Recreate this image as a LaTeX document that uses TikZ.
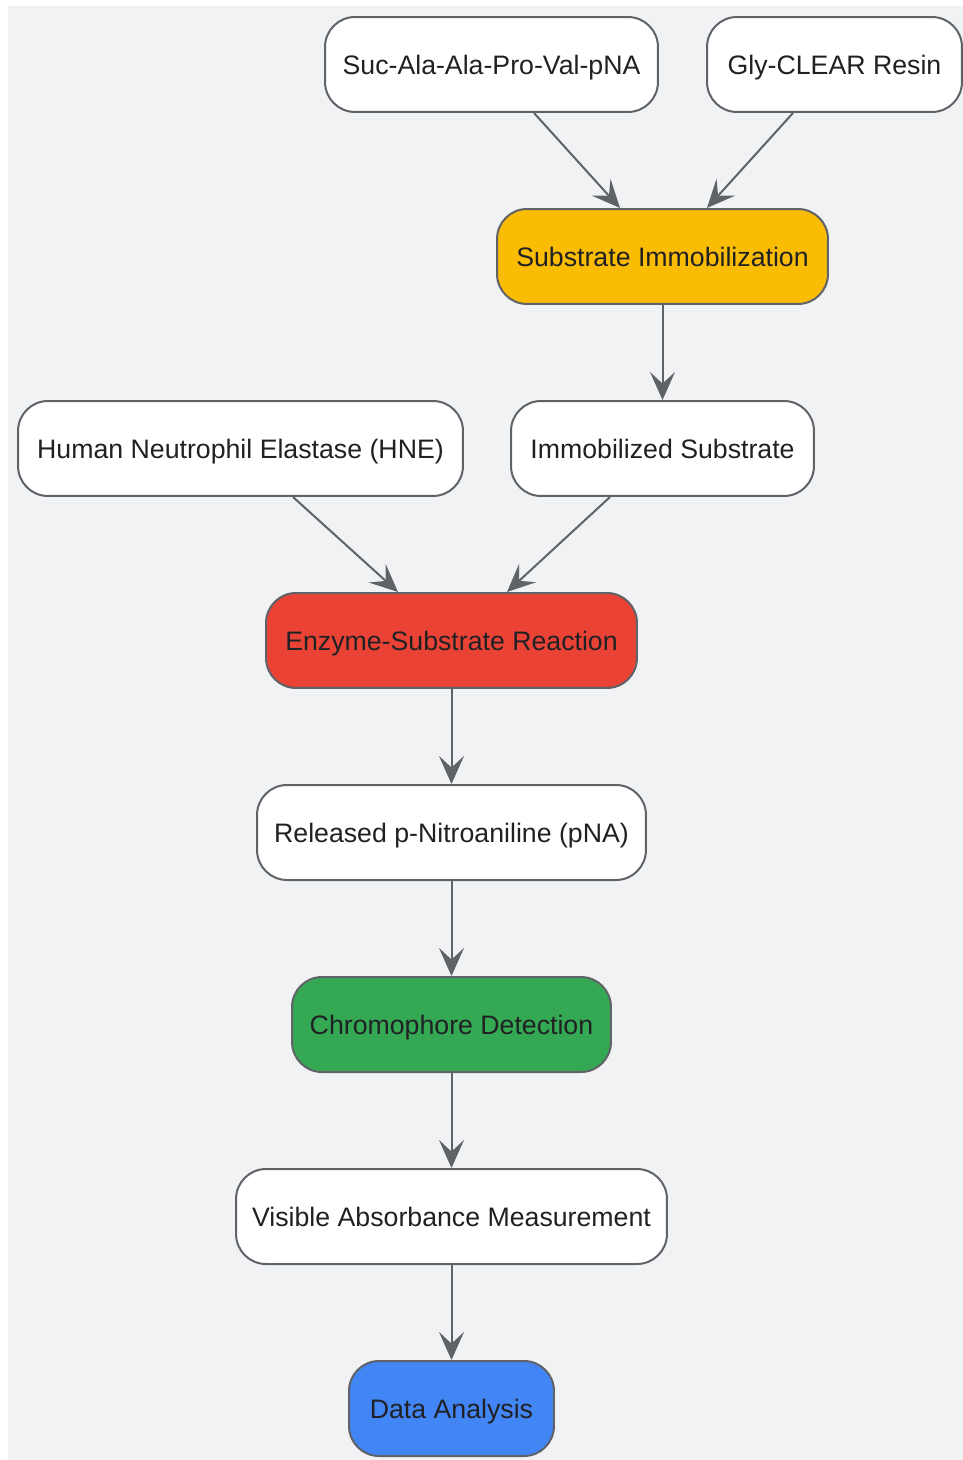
\documentclass[tikz,border=0pt]{standalone}
\usepackage{fontspec}
\setmainfont{Liberation Sans}
\usepackage{xcolor}
\usepackage{tikz}
\usetikzlibrary{arrows.meta}

\definecolor{bggray}{HTML}{F1F2F4}
\definecolor{linegray}{HTML}{5F6368}
\definecolor{txtgray}{HTML}{202124}
\definecolor{gyellow}{HTML}{FBBC04}
\definecolor{gred}{HTML}{EA4335}
\definecolor{ggreen}{HTML}{34A853}
\definecolor{gblue}{HTML}{4285F4}

\tikzset{
  box/.style={draw=linegray, line width=0.4mm, rounded corners=6mm, fill=white,
    minimum height=19mm, inner sep=0pt, text=txtgray,
    text height=14.4pt, text depth=3.5pt,
    font=\fontsize{15.2pt}{18pt}\selectfont},
  flow/.style={draw=linegray, line width=0.4mm,
    -{Stealth[length=5.6mm,width=5mm,inset=2.3mm]}}
}

\begin{document}
\begin{tikzpicture}[x=0.02cm,y=-0.02cm]
\useasboundingbox (0,0) rectangle (963,1460);
% Background
\fill[bggray] (8,6) rectangle (963,1460);

% Inputs
\node[box,minimum width=6.66cm] (suc) at (491.5,64.5) {Suc-Ala-Ala-Pro-Val-pNA};
\node[box,minimum width=5.1cm] (gly) at (834.5,64.5) {Gly-CLEAR Resin};
\node[box,fill=gyellow,minimum width=6.62cm] (immob) at (662.5,256.5) {Substrate Immobilization};
\node[box,minimum width=8.9cm] (hne) at (240.5,448.5) {Human Neutrophil Elastase (HNE)};
\node[box,minimum width=6.06cm] (immsub) at (662.5,448.5) {Immobilized Substrate};

% Main chain
\node[box,fill=gred,minimum width=7.42cm] (react) at (451.5,640.5) {Enzyme-Substrate Reaction};
\node[box,minimum width=7.78cm] (pna) at (451.5,832.5) {Released p-Nitroaniline (pNA)};
\node[box,fill=ggreen,minimum width=6.38cm] (chrom) at (451.5,1024.5) {Chromophore Detection};
\node[box,minimum width=8.62cm] (absorb) at (451.5,1216.5) {Visible Absorbance Measurement};
\node[box,fill=gblue,minimum width=4.1cm] (data) at (451.5,1408.5) {Data Analysis};

% Arrows
\draw[flow] ([xshift=0.85cm]suc.south) -- ([xshift=-0.85cm]immob.north);
\draw[flow] ([xshift=-0.83cm]gly.south) -- ([xshift=0.89cm]immob.north);
\draw[flow] (immob) -- (immsub);
\draw[flow] ([xshift=1.05cm]hne.south) -- ([xshift=-1.07cm]react.north);
\draw[flow] ([xshift=-1.05cm]immsub.south) -- ([xshift=1.11cm]react.north);
\draw[flow] (react) -- (pna);
\draw[flow] (pna) -- (chrom);
\draw[flow] (chrom) -- (absorb);
\draw[flow] (absorb) -- (data);
\end{tikzpicture}
\end{document}
